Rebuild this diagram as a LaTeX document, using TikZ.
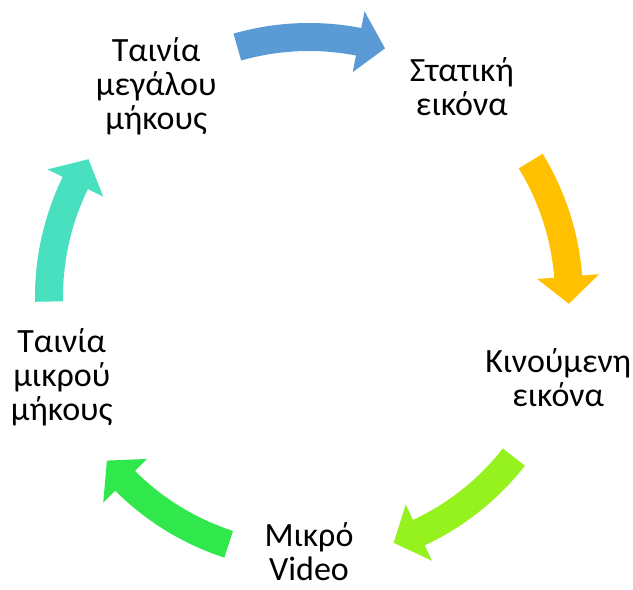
\documentclass[tikz,border=0pt]{standalone}
\usepackage{fontspec}
\setmainfont{Carlito}
\usetikzlibrary{positioning}
\definecolor{arrowblue}{HTML}{5B9BD5}
\definecolor{arroworange}{HTML}{FFC000}
\definecolor{arrowlime}{HTML}{96F21E}
\definecolor{arrowgreen}{HTML}{30E84C}
\definecolor{arrowteal}{HTML}{48E0BE}

% curved block arrow on the cycle, #1 colour, #2 middle angle
\newcommand{\cyclearrow}[2]{%
    \fill[#1] ([shift={(#2+16.5:274)}]c) arc[start angle=#2+16.5, end angle=#2-10.5, radius=274]
        -- ([shift={(#2-10.5:291)}]c) -- ([shift={(#2-16.5:260)}]c) -- ([shift={(#2-10.5:229)}]c)
        -- ([shift={(#2-10.5:246)}]c) arc[start angle=#2-10.5, end angle=#2+16.5, radius=246] -- cycle;
}

\begin{document}
\begin{tikzpicture}
    [
        x=0.5pt, y=0.5pt,
        text_node/.style={align=center, inner sep=0pt, font=\fontsize{17}{17}\selectfont},
    ]
        \useasboundingbox (0,0) rectangle (633,590);
        \coordinate (c) at (309,293);
        \node[text_node] (stat) at ([shift={(54:260)}]c) {Στατική\\εικόνα} ;
        \node[text_node] (kin) at ([shift={(-18:262)}]c) {Κινούμενη\\εικόνα} ;
        \node[text_node] (mikro) at ([shift={(-90:255)}]c) {Μικρό\\Video} ;
        \node[text_node] (mikrou) at ([shift={(198:260)}]c) {Ταινία\\μικρού\\μήκους} ;
        \node[text_node] (megalou) at ([shift={(126:260)}]c) {Ταινία\\μεγάλου\\μήκους} ;
        \cyclearrow{arrowblue}{89.5}
        \cyclearrow{arroworange}{15}
        \cyclearrow{arrowlime}{-54.5}
        \cyclearrow{arrowgreen}{-124.5}
        \cyclearrow{arrowteal}{164.5}
    \end{tikzpicture}
\end{document}
